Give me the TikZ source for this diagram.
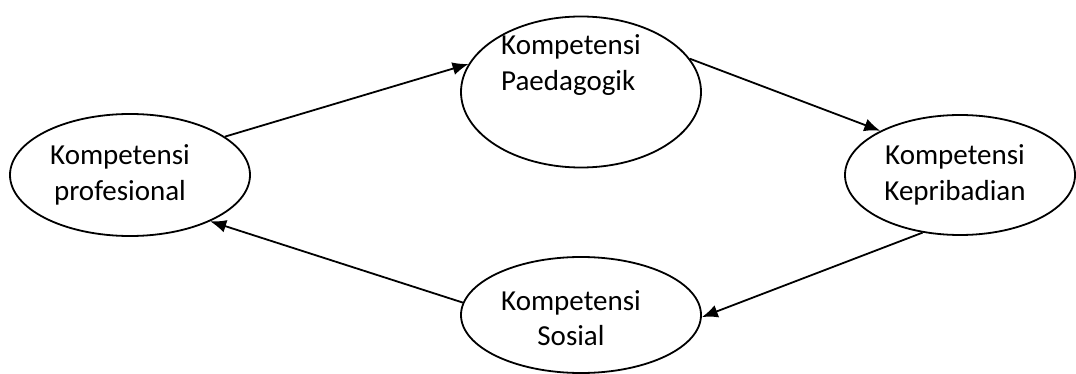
\documentclass[tikz,border=0pt]{standalone}
\usepackage{fontspec}
\setmainfont{Carlito}
\usetikzlibrary{arrows.meta,shapes.geometric,positioning,calc}

\begin{document}
\begin{tikzpicture}[x=1pt,y=-1pt, line width=1.8pt,
  komp/.style={ellipse, draw, inner sep=0pt},
  lbl/.style={align=center, font=\fontsize{29}{35.5}\selectfont},
  >={Latex[length=16pt,width=13pt]}]
\useasboundingbox (0,0) rectangle (1076,374);
\node[komp, minimum width=240pt, minimum height=122pt] (prof) at (130,175) {};
\node[komp, minimum width=240pt, minimum height=151pt] (paed) at (581,92) {};
\node[komp, minimum width=230pt, minimum height=120pt] (krib) at (960,175) {};
\node[komp, minimum width=240pt, minimum height=116pt] (sos) at (581,315) {};
\node[lbl] (proft) at (120,175) {Kompetensi\\profesional};
\node[lbl, align=left] (paedt) at (571,65) {Kompetensi\\Paedagogik};
\node[lbl] (kribt) at (955,175) {Kompetensi\\Kepribadian};
\node[lbl] (sost) at (571,318) {Kompetensi\\Sosial};
%\node (pusat) at (581,195) {};

\draw[->] (prof.22)--(paed.166);
\draw[->] (paed.17)--(krib.151);
\draw[->] (krib.237)--(sos.359);
\draw[->] (sos.174)--(prof.330);
\end{tikzpicture}
\end{document}
